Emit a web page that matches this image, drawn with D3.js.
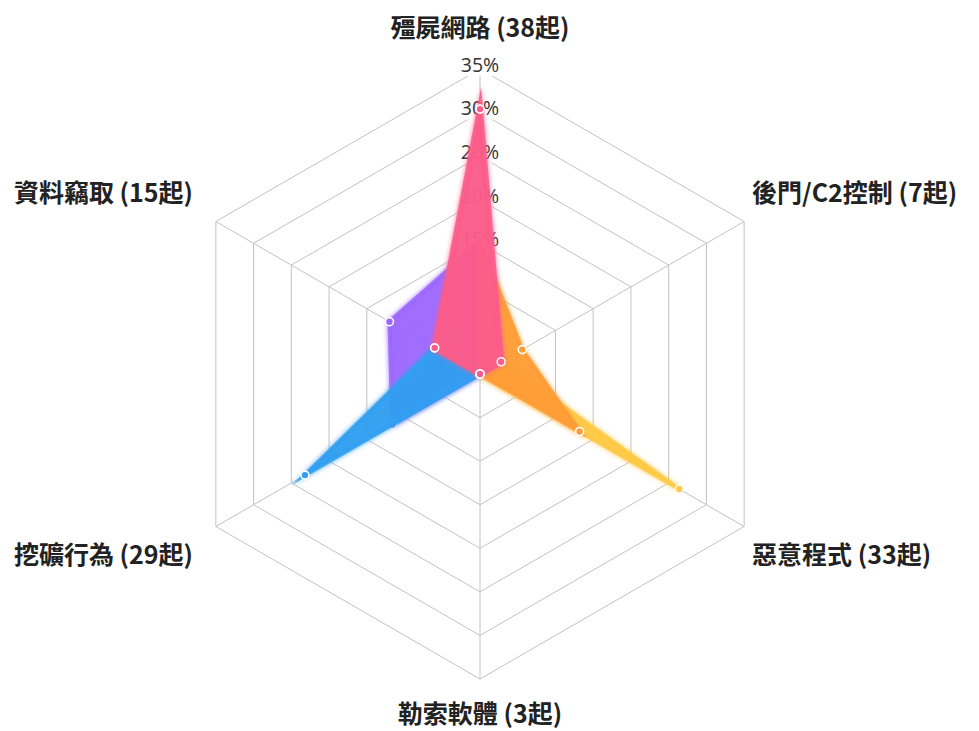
<!DOCTYPE html>
<html>
<head>
<meta charset="utf-8">
<script src="https://cdn.jsdelivr.net/npm/d3@7"></script>
<style>
  html, body { margin: 0; padding: 0; background: #fff; }
  svg { display: block; }
</style>
</head>
<body>
<script>
/* 雷達圖資料 */
var categories = ['殭屍網路', '後門/C2控制', '惡意程式', '勒索軟體', '挖礦行為', '資料竊取'];
var counts = [38, 7, 33, 3, 29, 15];
var tickValues = [5, 10, 15, 20, 25, 30, 35];

/* 每個類別一組 (百分比) */
var botnetValues   = [30.4, 2.8, 0, 0, 0, 6.0];
var backdoorValues = [15.2, 5.6, 13.2, 0, 0, 0];
var malwareValues  = [0, 2.8, 26.4, 0, 0, 0];
var miningValues   = [0, 0, 0, 0, 23.2, 6.0];
var theftValues    = [15.2, 0, 0, 0, 11.6, 12.0];

var seriesList = [
  { name: '殭屍網路', values: botnetValues, color: '#fb5c8a', line: 6 },
  { name: '後門/C2控制', values: backdoorValues, color: '#ff9c36', line: 4 },
  { name: '惡意程式', values: malwareValues, color: '#ffc944', line: 4 },
  { name: '挖礦行為', values: miningValues, color: '#319ff0', line: 4 },
  { name: '資料竊取', values: theftValues, color: '#9c66ff', line: 4 }
];

var width = 979, height = 731;
var cx = 480, cy = 374, R = 305;

var svg = d3.select('body').append('svg')
  .attr('width', width)
  .attr('height', height);

var defs = svg.append('defs');
var glow = defs.append('filter').attr('id', 'glow')
  .attr('x', '-30%').attr('y', '-30%').attr('width', '160%').attr('height', '160%');
glow.append('feGaussianBlur').attr('in', 'SourceGraphic').attr('stdDeviation', 2.5).attr('result', 'b');
var merge = glow.append('feMerge');
merge.append('feMergeNode').attr('in', 'b');
merge.append('feMergeNode').attr('in', 'SourceGraphic');

var g = svg.append('g').attr('transform', 'translate(' + cx + ',' + cy + ')');

var r = d3.scaleLinear().domain([0, 35]).range([0, R]);
var angle = d3.scaleLinear().domain([0, categories.length]).range([0, 2 * Math.PI]);

/* 網格 */
var ring = d3.lineRadial()
  .angle(function(d, i) { return angle(i); })
  .radius(function(d) { return r(d); })
  .curve(d3.curveLinearClosed);

g.selectAll('.ring').data(tickValues).enter().append('path')
  .attr('class', 'ring')
  .attr('d', function(t) { return ring(categories.map(function() { return t; })); })
  .attr('fill', 'none')
  .attr('stroke', '#c2c2c2')
  .attr('stroke-width', 1);

g.selectAll('.spoke').data(categories).enter().append('line')
  .attr('x1', 0).attr('y1', 0)
  .attr('x2', function(d, i) { return r(35) * Math.sin(angle(i)); })
  .attr('y2', function(d, i) { return -r(35) * Math.cos(angle(i)); })
  .attr('stroke', '#c2c2c2')
  .attr('stroke-width', 1);

/* 刻度文字 */
var tick = g.selectAll('.tick').data(tickValues).enter().append('g')
  .attr('transform', function(t) { return 'translate(0,' + (-r(t) - 4) + ')'; });
tick.append('rect')
  .attr('x', -24).attr('y', -11).attr('width', 48).attr('height', 22)
  .attr('fill', '#fff');
tick.append('text')
  .attr('text-anchor', 'middle')
  .attr('dy', '0.35em')
  .attr('font-family', '"Open Sans", "Noto Sans", sans-serif')
  .attr('font-size', 19.5)
  .attr('fill', '#333')
  .text(function(t) { return t + '%'; });

/* 資料 (第一組畫在最上面) */
var area = d3.lineRadial()
  .angle(function(d, i) { return angle(i); })
  .radius(function(d) { return r(d); })
  .curve(d3.curveLinearClosed);

var layers = g.selectAll('.series').data(seriesList.slice().reverse()).enter().append('g')
  .attr('class', 'series');

layers.append('path')
  .attr('d', function(s) { return area(s.values); })
  .attr('fill', function(s) { return s.color; })
  .attr('fill-opacity', 0.8)
  .attr('stroke', function(s) { return s.color; })
  .attr('stroke-opacity', 0.85)
  .attr('stroke-width', function(s) { return s.line; })
  .attr('stroke-linejoin', 'miter')
  .attr('stroke-miterlimit', 12)
  .attr('filter', 'url(#glow)');

layers.selectAll('circle').data(function(s) {
    return s.values.map(function(v, i) { return { v: v, i: i, color: s.color }; });
  }).enter().append('circle')
  .attr('cx', function(d) { return r(d.v) * Math.sin(angle(d.i)); })
  .attr('cy', function(d) { return -r(d.v) * Math.cos(angle(d.i)); })
  .attr('r', 4)
  .attr('fill', function(d) { return d.color; })
  .attr('stroke', '#fff')
  .attr('stroke-width', 1.6);

/* 類別文字 */
var labelPos = [
  { x: 0, y: -346, anchor: 'middle' },
  { x: 272, y: -181, anchor: 'start' },
  { x: 272, y: 181, anchor: 'start' },
  { x: 0, y: 340, anchor: 'middle' },
  { x: -287, y: 181, anchor: 'end' },
  { x: -287, y: -181, anchor: 'end' }
];

g.selectAll('.label').data(categories).enter().append('text')
  .attr('x', function(d, i) { return labelPos[i].x; })
  .attr('y', function(d, i) { return labelPos[i].y; })
  .attr('dy', '0.35em')
  .attr('text-anchor', function(d, i) { return labelPos[i].anchor; })
  .attr('font-family', '"Noto Sans CJK TC", "Noto Sans", sans-serif')
  .attr('font-weight', 'bold')
  .attr('font-size', 25)
  .attr('fill', '#222')
  .text(function(d, i) { return d + ' (' + counts[i] + '起)'; });
</script>
</body>
</html>
